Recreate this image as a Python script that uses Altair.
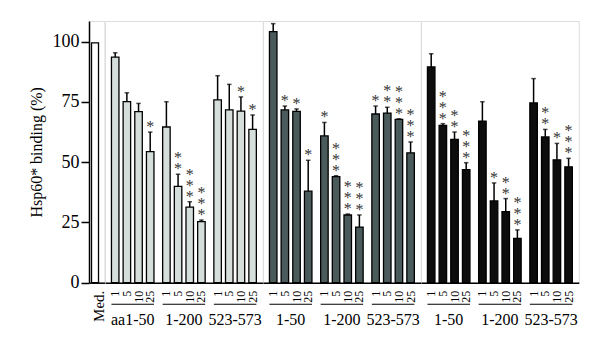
import altair as alt
import pandas as pd

# ---------------- data ----------------
doses = ["1", "5", "10", "25"]
med_label = "Med."
med_value = 99.5

groups_a = ["aa1-50", "1-200", "523-573"]
groups_b = ["1-50", "1-200", "523-573"]
groups_c = ["1-50", "1-200", "523-573"]

# light grey block
mean_a = [93.6, 75.1, 71.0, 54.4, 64.6, 40.0, 31.4, 25.3, 75.9, 71.7, 71.2, 63.6]
err_a = [1.8, 3.7, 3.4, 8.1, 10.5, 5.0, 2.2, 0.7, 10.0, 10.6, 5.9, 6.0]
stars_a = [0, 0, 0, 1, 0, 2, 3, 3, 0, 0, 1, 1]

# dark grey block
mean_b = [104.2, 71.7, 71.1, 38.0, 60.9, 44.0, 28.1, 23.1, 70.0, 70.4, 67.8, 53.9]
err_b = [3.3, 1.6, 1.0, 12.8, 5.6, 0.4, 0.4, 5.0, 3.3, 2.4, 0.2, 4.5]
stars_b = [0, 1, 1, 1, 1, 3, 3, 3, 1, 2, 3, 3]

# black block
mean_c = [89.5, 65.3, 59.5, 46.9, 67.0, 33.9, 29.5, 18.4, 74.6, 60.5, 51.0, 48.1]
err_c = [5.5, 0.7, 3.0, 2.9, 8.1, 7.5, 5.4, 3.5, 10.1, 3.1, 6.8, 3.5]
stars_c = [0, 3, 2, 3, 0, 1, 2, 3, 0, 2, 1, 3]

y_ticks = [0, 25, 50, 75, 100]
y_title = "Hsp60* binding (%)"

# ---------------- layout / style ----------------
FONT = "Liberation Serif"
H = 261.7
BW = 157.8
MEDW = 15.4
YMAX = 108.6
STAR_STEP = 11
colors = ["#d6dedc", "#4b5a5a", "#0d0d0d"]


def yscale():
    return alt.Scale(domain=[0, YMAX], nice=False, zero=True)


def xaxis():
    return alt.Axis(labels=False, ticks=False, title=None, domain=True,
                    domainColor="black", domainWidth=1.5, grid=False)


def block_panel(groups, means, errs, stars, color):
    rows = []
    for gi, g in enumerate(groups):
        for di, d in enumerate(doses):
            k = gi * 4 + di
            rows.append(dict(group=g, dose=d, mean=means[k], top=means[k] + errs[k],
                             nstars=stars[k]))
    df = pd.DataFrame(rows)
    gdf = pd.DataFrame({"group": groups})

    xg = alt.X("group:N", sort=groups,
               scale=alt.Scale(paddingInner=0.17, paddingOuter=0.126), axis=xaxis())
    xo = alt.XOffset("dose:N", sort=doses,
                     scale=alt.Scale(paddingInner=0.357, paddingOuter=0))

    base = alt.Chart(df)
    bars = base.mark_bar(color=color, stroke="black", strokeWidth=1.3).encode(
        x=xg, xOffset=xo, y=alt.Y("mean:Q", scale=yscale(), axis=None))
    err = base.mark_rule(color="black", strokeWidth=1.5).encode(
        x=xg, xOffset=xo, y=alt.Y("mean:Q", scale=yscale(), axis=None), y2="top:Q")
    cap = base.mark_tick(color="black", size=4.5, thickness=1.5, orient="horizontal").encode(
        x=xg, xOffset=xo, y=alt.Y("top:Q", scale=yscale(), axis=None))
    star_layers = []
    for lvl in range(1, 4):
        star_layers.append(
            base.transform_filter(f"datum.nstars >= {lvl}").mark_text(
                font=FONT, fontSize=16, baseline="bottom",
                dy=3 - (lvl - 1) * STAR_STEP, color="#333333", text="*").encode(
                x=xg, xOffset=xo, y=alt.Y("top:Q", scale=yscale(), axis=None)))
    dose_lbl = base.mark_text(font=FONT, fontSize=12, angle=270, align="right",
                              baseline="middle", color="black").encode(
        x=xg, xOffset=xo, y=alt.value(H + 8), text="dose:N")
    uline = alt.Chart(gdf).mark_rect(color="black").encode(
        x=xg, y=alt.value(H + 21), y2=alt.value(H + 22))
    glbl = alt.Chart(gdf).mark_text(font=FONT, fontSize=16, baseline="alphabetic",
                                    color="black").encode(
        x=xg, y=alt.value(H + 42), text="group:N")
    return alt.layer(bars, err, cap, *star_layers, dose_lbl, uline, glbl).properties(
        width=BW, height=H)


med_df = pd.DataFrame({"group": [med_label], "mean": [med_value]})
mx = alt.X("group:N", scale=alt.Scale(paddingInner=0, paddingOuter=0), axis=xaxis())
med_bar = alt.Chart(med_df).mark_bar(size=7, xOffset=-1.7, color="white",
                                     stroke="black", strokeWidth=1.3).encode(
    x=mx,
    y=alt.Y("mean:Q", scale=yscale(),
            axis=alt.Axis(values=y_ticks, title=y_title, tickSize=8, labelPadding=2,
                          domainColor="black", domainWidth=1.5, tickColor="black",
                          tickWidth=1.5, labelFont=FONT, labelFontSize=18,
                          labelColor="black", titleFont=FONT, titleFontSize=16,
                          titleFontWeight="normal", titleColor="black",
                          titleX=-53, titleY=H / 2, titleBaseline="middle",
                          titleAngle=270, grid=False)))
med_lbl = alt.Chart(med_df).mark_text(font=FONT, fontSize=15, angle=270, align="right",
                                      baseline="middle", xOffset=2, color="black").encode(
    x=mx, y=alt.value(H + 8), text="group:N")
med_panel = alt.layer(med_bar, med_lbl).properties(width=MEDW, height=H)

chart = alt.hconcat(
    med_panel,
    block_panel(groups_a, mean_a, err_a, stars_a, colors[0]),
    block_panel(groups_b, mean_b, err_b, stars_b, colors[1]),
    block_panel(groups_c, mean_c, err_c, stars_c, colors[2]),
    spacing=0, bounds="flush",
).properties(
    padding={"left": 27, "top": 20, "right": 5, "bottom": 5},
    background="white",
).configure_view(strokeWidth=0).configure(font=FONT)

chart.save("out.html", embed_options={"renderer": "svg", "actions": False})
